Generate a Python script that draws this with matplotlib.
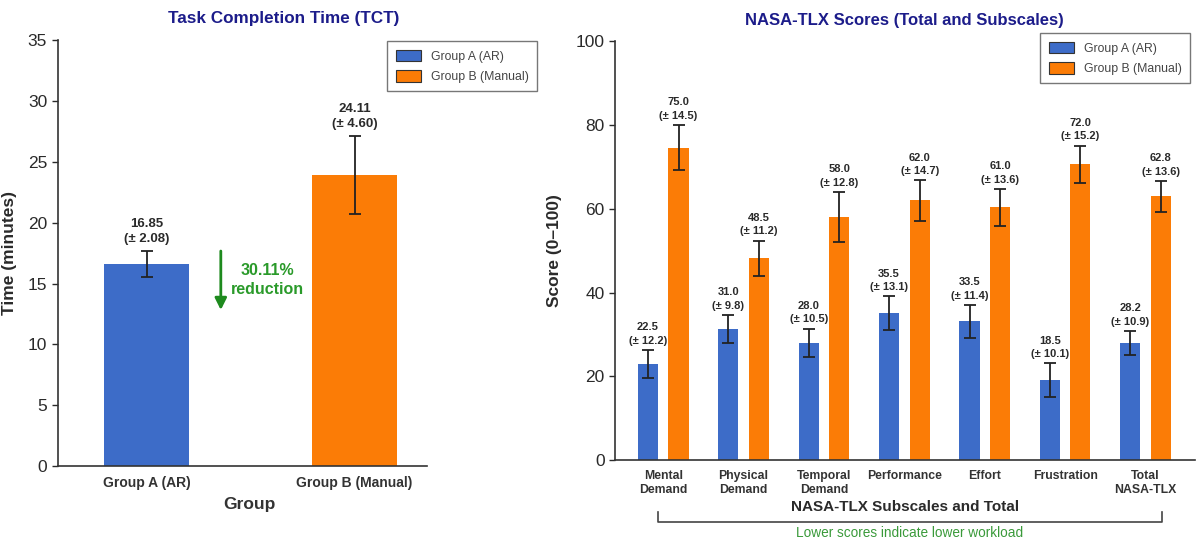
import numpy as np
import matplotlib
matplotlib.use("Agg")
import matplotlib.pyplot as plt
from matplotlib.lines import Line2D

plt.rcParams["font.family"] = ["Liberation Sans Narrow", "Liberation Sans", "DejaVu Sans"]

# ---- data: task completion time ----
tct_groups = ["Group A (AR)", "Group B (Manual)"]
tct_bar = [16.6, 23.95]
tct_err = [1.1, 3.2]
tct_mean_lbl = [16.85, 24.11]
tct_sd_lbl = [2.08, 4.60]

# ---- data: NASA-TLX ----
subscales = ["Mental\nDemand", "Physical\nDemand", "Temporal\nDemand", "Performance",
             "Effort", "Frustration", "Total\nNASA-TLX"]
a_bar = [23.0, 31.3, 28.0, 35.1, 33.1, 19.1, 28.0]
a_err = [3.3, 3.4, 3.4, 4.0, 4.0, 4.0, 2.9]
b_bar = [74.6, 48.2, 58.0, 62.0, 60.4, 70.6, 63.0]
b_err = [5.4, 4.2, 6.0, 4.8, 4.4, 4.5, 3.7]
a_mean_lbl = [22.5, 31.0, 28.0, 35.5, 33.5, 18.5, 28.2]
a_sd_lbl = [12.2, 9.8, 10.5, 13.1, 11.4, 10.1, 10.9]
b_mean_lbl = [75.0, 48.5, 58.0, 62.0, 61.0, 72.0, 62.8]
b_sd_lbl = [14.5, 11.2, 12.8, 14.7, 13.6, 15.2, 13.6]

C_A = "#3d6cc8"; C_B = "#fb7c06"
TITLE_C = "#1c1c8a"; GREEN = "#2a9a2a"
EK = dict(ecolor="#222222", elinewidth=1.3, capsize=4, capthick=1.3)
TXT = "#2a2a2a"

fig = plt.figure(figsize=(12, 5.42), dpi=100)
fig.patch.set_facecolor("white")

def style(ax):
    for s in ("top", "right"):
        ax.spines[s].set_visible(False)
    for s in ("left", "bottom"):
        ax.spines[s].set_linewidth(1.2)
        ax.spines[s].set_color("#333333")
    ax.tick_params(axis="x", length=0, pad=7)
    ax.tick_params(axis="y", length=4, width=1, labelsize=12.5, colors=TXT)

def legend(ax, x0, y0):
    hs = [plt.Rectangle((0, 0), 1, 1, fc=C_A, ec="#333333", lw=0.8),
          plt.Rectangle((0, 0), 1, 1, fc=C_B, ec="#333333", lw=0.8)]
    lg = ax.legend(handles=hs, labels=["Group A (AR)", "Group B (Manual)"], loc="upper left",
                   bbox_to_anchor=(x0 / 1200, 1 - y0 / 542), bbox_transform=fig.transFigure,
                   borderaxespad=0, fontsize=8.8, frameon=True, fancybox=False,
                   edgecolor="#555555", handlelength=2.1, handleheight=1.1,
                   handletextpad=0.8, borderpad=0.7, labelspacing=0.6)
    for t in lg.get_texts():
        t.set_color("#444444")

# ---------------- left panel ----------------
ax = fig.add_axes([0.048, 0.140, 0.308, 0.786])
style(ax)
x = np.arange(len(tct_groups))
ax.bar(x, tct_bar, width=0.41, color=[C_A, C_B], yerr=tct_err, error_kw=EK, zorder=2)
for xi, h, e, m, s in zip(x, tct_bar, tct_err, tct_mean_lbl, tct_sd_lbl):
    ax.annotate(f"{m:.2f}\n(\u00b1 {s:.2f})", xy=(xi, h + e), xytext=(0, 4),
                textcoords="offset points", ha="center", va="bottom",
                fontsize=9.5, fontweight="bold", color=TXT, linespacing=1.35)
ax.set_xlim(-0.43, 1.35)
ax.set_ylim(0, 35)
ax.set_yticks(range(0, 36, 5))
ax.set_xticks(x)
ax.set_xticklabels(tct_groups, fontsize=10, fontweight="bold", color="#333333")
ax.set_xlabel("Group", fontsize=12.5, fontweight="bold", color="#333333", labelpad=5)
ax.xaxis.label.set_x(0.52)
ax.set_ylabel("Time (minutes)", fontsize=12.5, fontweight="bold", color=TXT, labelpad=8)
ax.set_title("Task Completion Time (TCT)", fontsize=12.3, fontweight="bold", color=TITLE_C,
             pad=12, x=0.612)
ax.annotate("", xy=(0.356, 12.6), xytext=(0.356, 17.9),
            arrowprops=dict(arrowstyle="-|>,head_width=0.35,head_length=0.7", color="#1e8a1e", lw=2))
ax.text(0.58, 15.3, "30.11%\nreduction", ha="center", va="center", fontsize=11.5,
        fontweight="bold", color=GREEN, linespacing=1.3)
legend(ax, 387, 41)

# ---------------- right panel ----------------
ax2 = fig.add_axes([0.5125, 0.151, 0.483, 0.773])
style(ax2)
g = np.arange(len(subscales))
off = 0.19; w = 0.25
ax2.bar(g - off, a_bar, width=w, color=C_A, yerr=a_err, error_kw=EK, zorder=2)
ax2.bar(g + off, b_bar, width=w, color=C_B, yerr=b_err, error_kw=EK, zorder=2)
for bars, errs, ms, sds, sign in ((a_bar, a_err, a_mean_lbl, a_sd_lbl, -1),
                                  (b_bar, b_err, b_mean_lbl, b_sd_lbl, 1)):
    for gi, h, e, m, s in zip(g, bars, errs, ms, sds):
        ax2.annotate(f"{m:.1f}\n(\u00b1 {s:.1f})", xy=(gi + sign * off, h + e), xytext=(0, 3),
                     textcoords="offset points", ha="center", va="bottom",
                     fontsize=8, fontweight="bold", color=TXT, linespacing=1.45)
ax2.set_xlim(-0.6, 6.61)
ax2.set_ylim(0, 100)
ax2.set_yticks(range(0, 101, 20))
ax2.set_xticks(g)
ax2.set_xticklabels(subscales, fontsize=8.8, fontweight="bold", color="#333333", linespacing=1.2)
ax2.set_xlabel("NASA-TLX Subscales and Total", fontsize=11, fontweight="bold",
               color=TXT, labelpad=3)
ax2.set_ylabel("Score (0\u2013100)", fontsize=12.5, fontweight="bold", color=TXT, labelpad=10)
ax2.set_title("NASA-TLX Scores (Total and Subscales)", fontsize=12, fontweight="bold",
              color=TITLE_C, pad=12)
legend(ax2, 1040, 33)

# bracket and note under right panel
bx0, bx1 = 658 / 1200, 1162 / 1200
by, byt = 1 - 522 / 542, 1 - 512 / 542
fig.add_artist(Line2D([bx0, bx0, bx1, bx1], [byt, by, by, byt], color="#444444", lw=1.2))
fig.text((bx0 + bx1) / 2, 1 - 533 / 542, "Lower scores indicate lower workload",
         ha="center", va="center", fontsize=9.8, color="#3a9a3a")

fig.savefig("out.png", dpi=100, facecolor="white")
